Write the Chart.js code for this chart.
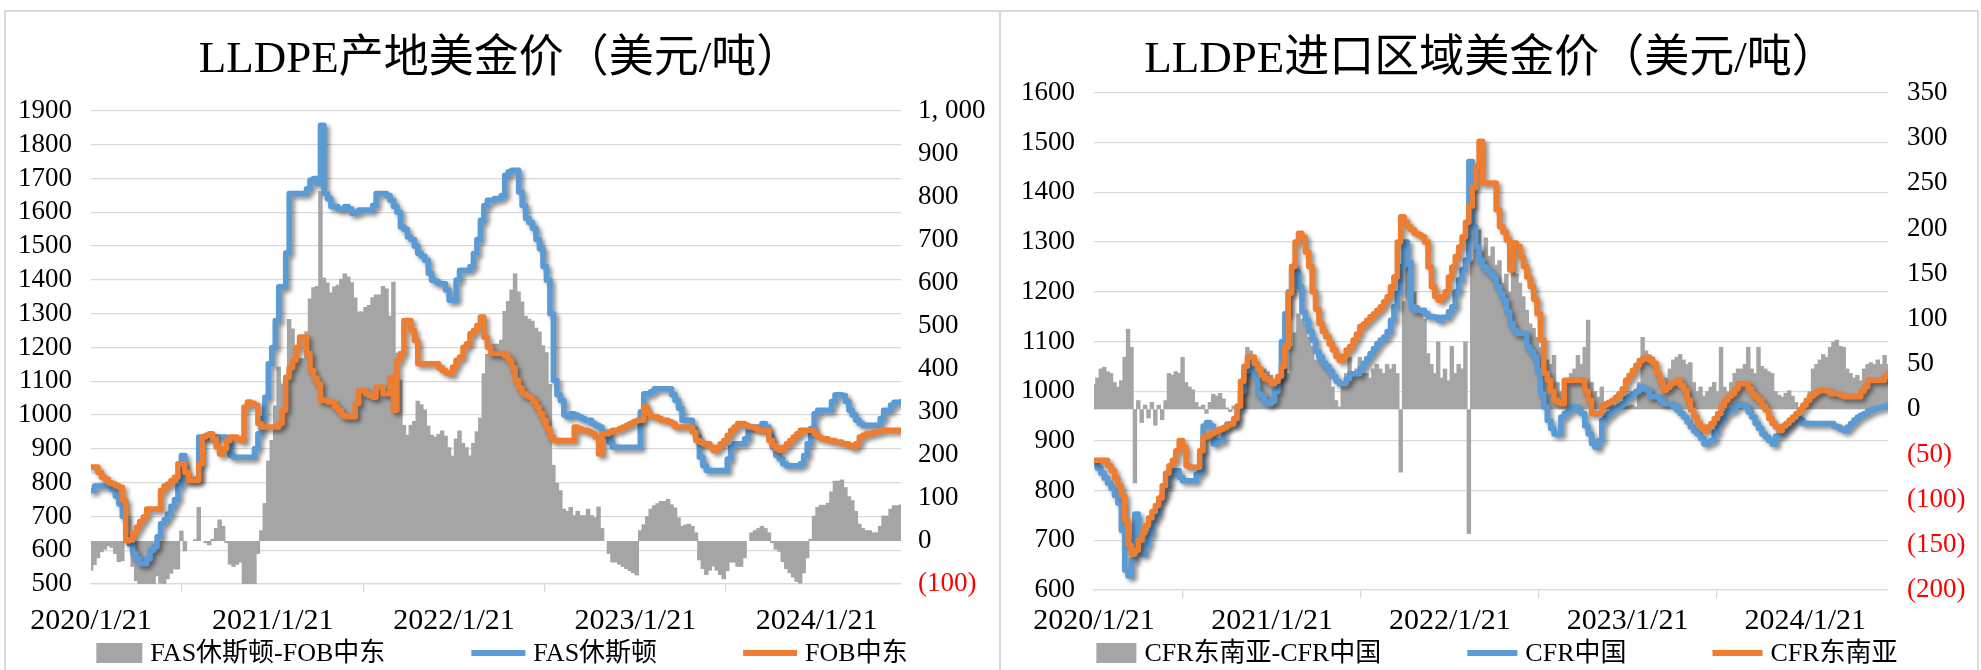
<!DOCTYPE html>
<html>
<head>
<meta charset="utf-8">
<script src="https://cdn.jsdelivr.net/npm/chart.js"></script>
<style>
  html, body { margin: 0; padding: 0; background: #ffffff; }
  #wrap { position: relative; width: 1981px; height: 670px; overflow: hidden; background: #ffffff; }
  .rule { position: absolute; background: #d9d9d9; }
  canvas { position: absolute; top: 0; }
</style>
</head>
<body>
<div id="wrap">
  <div class="rule" style="left:4px; top:10px; width:1975px; height:2px;"></div>
  <div class="rule" style="left:4px; top:10px; width:2px; height:660px;"></div>
  <div class="rule" style="left:999px; top:10px; width:2px; height:660px;"></div>
  <div class="rule" style="left:1977px; top:10px; width:2px; height:660px;"></div>
  <canvas id="leftChart" width="1000" height="670" style="left:0px;"></canvas>
  <canvas id="rightChart" width="981" height="670" style="left:1000px;"></canvas>
</div>
<script>
// ===============================
// Data (one value per week, starting 2020/1/21)
// ===============================

// x axis: day offsets of the labelled ticks and their text
var tickDays = [0, 366, 731, 1096, 1461];
var tickLabels = ["2020/1/21", "2021/1/21", "2022/1/21", "2023/1/21", "2024/1/21"];

// Left chart: LLDPE产地美金价
var lBlue = [ // FAS休斯顿
  777, 790, 790, 790, 790, 788, 780, 760, 737, 700,
  640, 619, 590, 575, 560, 560, 575, 600, 610, 640,
  678, 690, 707, 730, 750, 790, 880, 806, 806, 806,
  810, 935, 935, 935, 935, 935, 935, 935, 935, 920,
  880, 875, 875, 875, 875, 875, 875, 900, 945, 990,
  1053, 1152, 1200, 1280, 1380, 1380, 1480, 1656, 1656, 1656,
  1656, 1656, 1670, 1696, 1700, 1686, 1858, 1656, 1640, 1617,
  1617, 1610, 1610, 1617, 1610, 1597, 1600, 1607, 1607, 1607,
  1607, 1620, 1656, 1656, 1656, 1650, 1636, 1617, 1600, 1557,
  1550, 1527, 1520, 1500, 1478, 1470, 1458, 1420, 1399, 1395,
  1389, 1389, 1370, 1340, 1340, 1400, 1429, 1429, 1429, 1440,
  1478, 1520, 1577, 1620, 1636, 1636, 1641, 1641, 1650, 1710,
  1720, 1725, 1725, 1660, 1620, 1582, 1570, 1552, 1520, 1492,
  1440, 1399, 1300, 1102, 1060, 1043, 1000, 995, 1004, 1000,
  995, 990, 985, 985, 975, 970, 965, 950, 945, 920,
  905, 905, 905, 905, 905, 905, 905, 905, 1010, 1063,
  1063, 1070, 1078, 1078, 1078, 1078, 1078, 1060, 1043, 1020,
  985, 985, 985, 960, 935, 875, 850, 836, 836, 836,
  836, 836, 836, 870, 905, 915, 915, 915, 930, 965,
  965, 965, 965, 975, 965, 935, 905, 880, 870, 856,
  850, 850, 850, 850, 856, 880, 915, 960, 1004, 1014,
  1014, 1014, 1014, 1040, 1060, 1060, 1058, 1040, 1014, 1000,
  985, 975, 970, 970, 970, 970, 970, 990, 1014, 1014,
  1030, 1038, 1038, 1040
];
var lOrange = [ // FOB中东
  846, 846, 830, 816, 810, 800, 796, 790, 786, 747,
  628, 630, 650, 668, 685, 698, 722, 722, 722, 722,
  777, 790, 796, 806, 816, 856, 856, 830, 806, 806,
  806, 856, 935, 940, 945, 930, 905, 885, 900, 925,
  935, 935, 930, 925, 1024, 1039, 1035, 1029, 975, 965,
  965, 965, 965, 965, 975, 1014, 1112, 1140, 1162, 1200,
  1231, 1231, 1182, 1132, 1110, 1093, 1044, 1044, 1039, 1039,
  1025, 1014, 1000, 995, 995, 995, 1034, 1073, 1073, 1063,
  1058, 1053, 1083, 1083, 1063, 1063, 1112, 1014, 1162, 1182,
  1280, 1280, 1250, 1221, 1152, 1152, 1152, 1152, 1152, 1152,
  1140, 1132, 1125, 1122, 1142, 1162, 1172, 1201, 1211, 1241,
  1250, 1265, 1290, 1230, 1201, 1182, 1182, 1182, 1182, 1175,
  1162, 1140, 1103, 1080, 1063, 1058, 1053, 1040, 1024, 1005,
  985, 960, 935, 925, 925, 925, 925, 925, 925, 965,
  960, 955, 955, 950, 945, 935, 885, 945, 945, 950,
  955, 955, 960, 965, 970, 975, 980, 985, 985, 1024,
  1005, 995, 995, 990, 985, 985, 980, 975, 965, 965,
  965, 965, 965, 950, 925, 920, 915, 915, 905, 895,
  905, 915, 925, 940, 955, 965, 975, 975, 970, 965,
  965, 960, 955, 955, 955, 925, 910, 900, 895, 905,
  915, 925, 935, 945, 955, 955, 955, 955, 945, 935,
  930, 930, 925, 925, 920, 920, 915, 915, 910, 905,
  915, 935, 940, 945, 945, 950, 950, 955, 955, 955,
  955, 955, 955, 955
];
var lGray = [ // FAS休斯顿-FOB中东
  -69, -56, -40, -26, -20, -12, -16, -30, -49, -47,
  12, -11, -60, -93, -125, -138, -147, -122, -112, -82,
  -99, -100, -89, -76, -66, -66, 24, -24, 0, 0,
  4, 79, 0, -5, -10, 5, 30, 50, 35, -5,
  -55, -60, -55, -50, -149, -164, -160, -129, -30, 25,
  88, 187, 235, 315, 405, 366, 368, 516, 494, 456,
  425, 425, 488, 564, 590, 593, 814, 612, 601, 578,
  592, 596, 610, 622, 615, 602, 566, 534, 534, 544,
  549, 567, 573, 573, 593, 587, 524, 603, 438, 375,
  270, 247, 270, 279, 326, 318, 306, 268, 247, 243,
  249, 257, 245, 218, 198, 238, 257, 228, 218, 199,
  228, 255, 287, 390, 435, 454, 459, 459, 468, 535,
  558, 585, 622, 580, 557, 524, 517, 512, 496, 487,
  455, 439, 365, 177, 135, 118, 75, 70, 79, 60,
  70, 60, 60, 75, 60, 55, 80, 30, 0, -30,
  -50, -50, -55, -60, -65, -70, -75, -80, 25, 39,
  58, 75, 83, 88, 93, 93, 98, 85, 78, 55,
  35, 38, 40, 35, 20, -45, -65, -79, -69, -59,
  -69, -79, -89, -70, -50, -50, -60, -60, -40, 0,
  20, 25, 30, 35, 30, 20, -5, -20, -25, -49,
  -65, -75, -85, -95, -99, -75, -40, 5, 59, 79,
  84, 84, 89, 115, 140, 140, 143, 125, 104, 95,
  70, 40, 30, 25, 25, 20, 20, 35, 59, 59,
  75, 83, 83, 85
];

// Right chart: LLDPE进口区域美金价
var rBlue = [ // CFR中国
  854, 845, 835, 825, 815, 805, 790, 775, 720, 640,
  628, 660, 753, 680, 672, 690, 713, 740, 753, 780,
  793, 810, 833, 840, 840, 827, 820, 820, 820, 820,
  833, 840, 930, 937, 930, 894, 900, 900, 927, 934,
  934, 934, 965, 1000, 1040, 1049, 1042, 1030, 995, 990,
  980, 975, 980, 1000, 1029, 1100, 1156, 1200, 1251, 1240,
  1210, 1160, 1143, 1120, 1103, 1080, 1069, 1056, 1050, 1040,
  1029, 1020, 1015, 1015, 1025, 1035, 1035, 1035, 1045, 1056,
  1066, 1076, 1086, 1096, 1103, 1109, 1120, 1143, 1170, 1197,
  1251, 1300, 1260, 1170, 1163, 1163, 1163, 1156, 1150, 1150,
  1149, 1143, 1149, 1149, 1160, 1170, 1200, 1224, 1245, 1264,
  1462, 1331, 1290, 1264, 1250, 1244, 1237, 1230, 1210, 1197,
  1183, 1160, 1136, 1123, 1116, 1116, 1116, 1089, 1080, 1069,
  1042, 995, 968, 941, 925, 914, 914, 948, 955, 960,
  968, 968, 960, 955, 930, 914, 895, 887, 901, 941,
  950, 955, 962, 965, 970, 975, 985, 990, 995, 1000,
  1009, 1005, 1002, 989, 989, 989, 982, 975, 975, 975,
  968, 962, 955, 948, 938, 928, 920, 914, 905, 894,
  898, 901, 918, 935, 945, 955, 960, 962, 970, 975,
  972, 968, 958, 948, 935, 925, 914, 908, 901, 894,
  910, 914, 921, 928, 935, 941, 948, 942, 935, 935,
  935, 935, 935, 935, 935, 935, 935, 930, 928, 924,
  921, 928, 935, 942, 948, 952, 955, 960, 962, 965,
  966, 968, 970, 972
];
var rOrange = [ // CFR东南亚
  861, 861, 861, 861, 850, 840, 825, 810, 790, 740,
  690, 672, 680, 700, 715, 730, 745, 758, 770, 785,
  810, 835, 850, 861, 880, 901, 887, 850, 847, 847,
  847, 880, 908, 910, 914, 918, 921, 924, 927, 932,
  934, 945, 970, 1020, 1050, 1069, 1069, 1055, 1045, 1032,
  1025, 1022, 1015, 1020, 1030, 1050, 1089, 1197, 1251, 1300,
  1318, 1310, 1280, 1251, 1200, 1165, 1136, 1120, 1109, 1095,
  1083, 1070, 1062, 1070, 1083, 1090, 1103, 1115, 1130, 1135,
  1143, 1150, 1156, 1163, 1170, 1180, 1190, 1210, 1230, 1300,
  1351, 1340, 1331, 1325, 1318, 1315, 1311, 1300, 1250, 1210,
  1190, 1183, 1190, 1200, 1230, 1250, 1271, 1290, 1311, 1340,
  1372, 1410, 1452, 1503, 1419, 1419, 1419, 1419, 1365, 1331,
  1320, 1304, 1244, 1298, 1291, 1270, 1251, 1230, 1210, 1185,
  1156, 1103, 1036, 1022, 1000, 982, 978, 975, 1022, 1022,
  1022, 1022, 1022, 1022, 1000, 982, 955, 955, 955, 970,
  975, 978, 982, 988, 995, 1005, 1022, 1032, 1042, 1052,
  1062, 1066, 1069, 1062, 1056, 1036, 1020, 1002, 1008, 1015,
  1018, 1022, 1012, 1002, 982, 962, 948, 935, 928, 921,
  928, 935, 945, 955, 970, 982, 990, 995, 1005, 1015,
  1015, 1015, 1005, 995, 988, 982, 970, 962, 945, 935,
  928, 921, 930, 935, 942, 948, 955, 962, 972, 982,
  990, 995, 1000, 1002, 1002, 1000, 995, 995, 995, 992,
  989, 989, 989, 989, 989, 1000, 1009, 1022, 1022, 1022,
  1022, 1022, 1030, 1036
];
var rGray = [ // CFR东南亚-CFR中国
  28, 35, 45, 47, 42, 40, 30, 25, 32, 58,
  89, 69, -82, 10, -15, 5, -10, 8, -18, 5,
  -12, 10, 40, 38, 42, 40, 58, 30, 25, 22,
  8, 3, 5, -5, 8, 17, 15, 18, 12, 2,
  -3, 4, 2, 5, 30, 69, 65, 60, 40, 35,
  45, 42, 38, 30, 35, 45, 50, 40, 70, 85,
  106, 100, 95, 80, 70, 55, 62, 50, 45, 40,
  25, 10, 3, 30, 40, 58, 40, 45, 58, 40,
  40, 35, 45, 50, 45, 40, 50, 45, 50, 40,
  -70, 120, 158, 150, 130, 115, 106, 100, 62, 50,
  40, 75, 35, 45, 32, 70, 40, 50, 45, 75,
  -138, 165, 185, 199, 175, 190, 170, 180, 160, 165,
  140, 150, 130, 160, 150, 140, 125, 110, 95, 90,
  80, 69, 60, 55, 50, 60, 30, 20, 14, 35,
  40, 45, 60, 50, 69, 99, 30, 20, 14, 25,
  5, 3, 6, 4, 5, 2, 6, 4, 5, 3,
  30, 80, 65, 60, 58, 45, 40, 32, 35, 45,
  55, 58, 61, 55, 50, 52, 30, 20, 25, 15,
  20, 25, 30, 20, 69, 25, 20, 30, 40, 45,
  45, 50, 69, 45, 40, 69, 48, 45, 42, 40,
  20, 16, 14, 18, 21, 15, 8, 3, 0, 5,
  20, 45, 50, 55, 61, 58, 69, 75, 77, 70,
  69, 45, 40, 35, 38, 32, 45, 50, 52, 50,
  55, 50, 60, 50
];

// day offset of every weekly point
var weekDays = [];
for (var i = 0; i < lBlue.length; i++) {
  weekDays.push(i * 7);
}

// ===============================
// Shared look
// ===============================
var SERIF = '"Liberation Serif", "Noto Sans CJK SC", serif';
var GRID = "#d9d9d9";
var BLUE = "#5B9BD5";
var ORANGE = "#ED7D31";
var GRAY = "#A5A5A5";

// soft drop shadow under the two lines (like the Excel style)
var lineShadow = {
  id: "lineShadow",
  beforeDatasetDraw: function(chart, args) {
    if (args.meta.type !== "line") return;
    var ctx = chart.ctx;
    ctx.save();
    ctx.shadowColor = "rgba(0,0,0,0.45)";
    ctx.shadowBlur = 4;
    ctx.shadowOffsetX = 3;
    ctx.shadowOffsetY = 3;
  },
  afterDatasetDraw: function(chart, args) {
    if (args.meta.type !== "line") return;
    chart.ctx.restore();
  }
};

// legend row at the bottom, spaced like the original
var bottomLegend = {
  id: "bottomLegend",
  afterDraw: function(chart, args, opts) {
    var ctx = chart.ctx;
    var sets = chart.data.datasets;
    ctx.save();
    ctx.font = opts.font;
    ctx.textBaseline = "middle";
    ctx.textAlign = "left";
    var widths = sets.map(function(ds) {
      var key = ds.type === "line" ? opts.lineKey : opts.barKey;
      return key + opts.keyGap + ctx.measureText(ds.label).width;
    });
    var total = opts.itemGap * (sets.length - 1);
    widths.forEach(function(w) { total += w; });
    var x = opts.centerX - total / 2;
    sets.forEach(function(ds, i) {
      var key;
      if (ds.type === "line") {
        key = opts.lineKey;
        ctx.strokeStyle = ds.borderColor;
        ctx.lineWidth = 6;
        ctx.beginPath();
        ctx.moveTo(x, opts.y);
        ctx.lineTo(x + key, opts.y);
        ctx.stroke();
      } else {
        key = opts.barKey;
        ctx.fillStyle = ds.backgroundColor;
        ctx.fillRect(x, opts.y - 10, key, 20);
      }
      ctx.fillStyle = "#000000";
      ctx.fillText(ds.label, x + key + opts.keyGap, opts.y + 1);
      x += widths[i] + opts.itemGap;
    });
    ctx.restore();
  }
};

function rightLabel(value) {
  if (value < 0) return "(" + Math.abs(value) + ")";
  if (value >= 1000) return Math.floor(value / 1000) + ", " + String(value % 1000).padStart(3, "0");
  return String(value);
}

function negRed(c) {
  return c.tick && c.tick.value < 0 ? "#FF0000" : "#000000";
}

// ===============================
// Build one chart
// ===============================
function makeChart(canvasId, cfg) {
  var ctx = document.getElementById(canvasId).getContext("2d");
  return new Chart(ctx, {
    type: "bar",
    data: {
      labels: weekDays,
      datasets: [
        {
          label: cfg.names[0],
          data: cfg.gray,
          backgroundColor: GRAY,
          borderWidth: 0,
          barPercentage: 1.3,
          categoryPercentage: 1,
          yAxisID: "y1",
          order: 3
        },
        {
          type: "line",
          label: cfg.names[1],
          data: cfg.blue,
          borderColor: BLUE,
          backgroundColor: BLUE,
          borderWidth: 5.5,
          borderJoinStyle: "round",
          borderCapStyle: "round",
          pointRadius: 0,
          stepped: true,
          yAxisID: "y",
          order: 2
        },
        {
          type: "line",
          label: cfg.names[2],
          data: cfg.orange,
          borderColor: ORANGE,
          backgroundColor: ORANGE,
          borderWidth: 5.5,
          borderJoinStyle: "round",
          borderCapStyle: "round",
          pointRadius: 0,
          stepped: true,
          yAxisID: "y",
          order: 1
        }
      ]
    },
    options: {
      responsive: false,
      animation: false,
      layout: { padding: 0 },
      plugins: {
        legend: { display: false },
        tooltip: { enabled: false },
        title: {
          display: true,
          text: cfg.title,
          color: "#000000",
          font: { family: SERIF, size: 45, weight: "normal" },
          padding: { top: 33, bottom: cfg.titleBottom }
        },
        bottomLegend: {
          centerX: cfg.legendX,
          y: 653,
          font: "26px " + SERIF,
          keyGap: 8,
          itemGap: 86,
          barKey: cfg.barKey,
          lineKey: cfg.lineKey
        }
      },
      scales: {
        x: {
          type: "linear",
          min: 0,
          max: weekDays[weekDays.length - 1],
          offset: false,
          afterBuildTicks: function(scale) {
            scale.ticks = tickDays.map(function(d) { return { value: d }; });
          },
          afterFit: function(scale) { scale.height = cfg.xHeight; },
          grid: { drawOnChartArea: false, drawTicks: true, tickLength: 8, color: GRID, lineWidth: 1.3 },
          border: { display: true, color: GRID, width: 1.3 },
          ticks: {
            autoSkip: false,
            maxRotation: 0,
            padding: cfg.xPad,
            color: "#000000",
            font: { family: SERIF, size: 30 },
            callback: function(value, index) { return tickLabels[index]; }
          }
        },
        y: {
          position: "left",
          min: cfg.yMin,
          max: cfg.yMax,
          afterFit: function(scale) { scale.width = cfg.leftWidth; },
          grid: { color: GRID, lineWidth: 1.3, drawTicks: false },
          border: { display: false },
          ticks: {
            stepSize: 100,
            autoSkip: false,
            padding: 19,
            color: "#000000",
            font: { family: SERIF, size: 27 },
            callback: function(value) { return String(value); }
          }
        },
        y1: {
          position: "right",
          min: cfg.y1Min,
          max: cfg.y1Max,
          afterFit: function(scale) { scale.width = cfg.rightWidth; },
          grid: { display: false, drawTicks: false },
          border: { display: false },
          ticks: {
            stepSize: cfg.y1Step,
            autoSkip: false,
            padding: cfg.rightPad,
            color: negRed,
            font: { family: SERIF, size: 27 },
            callback: function(value) { return rightLabel(value); }
          }
        }
      }
    },
    plugins: [lineShadow, bottomLegend]
  });
}

// ===============================
// The two charts
// ===============================
makeChart("leftChart", {
  title: "LLDPE产地美金价（美元/吨）",
  names: ["FAS休斯顿-FOB中东", "FAS休斯顿", "FOB中东"],
  gray: lGray,
  blue: lBlue,
  orange: lOrange,
  yMin: 500, yMax: 1900,
  y1Min: -100, y1Max: 1000, y1Step: 100,
  leftWidth: 91,
  rightWidth: 99,
  rightPad: 17,
  titleBottom: 24,
  xHeight: 86,
  xPad: 11,
  legendX: 502,
  barKey: 46,
  lineKey: 54
});

makeChart("rightChart", {
  title: "LLDPE进口区域美金价（美元/吨）",
  names: ["CFR东南亚-CFR中国", "CFR中国", "CFR东南亚"],
  gray: rGray,
  blue: rBlue,
  orange: rOrange,
  yMin: 600, yMax: 1600,
  y1Min: -200, y1Max: 350, y1Step: 50,
  leftWidth: 94,
  rightWidth: 93,
  rightPad: 19,
  titleBottom: 6,
  xHeight: 80,
  xPad: 5,
  legendX: 497,
  barKey: 40,
  lineKey: 50
});
</script>
</body>
</html>
